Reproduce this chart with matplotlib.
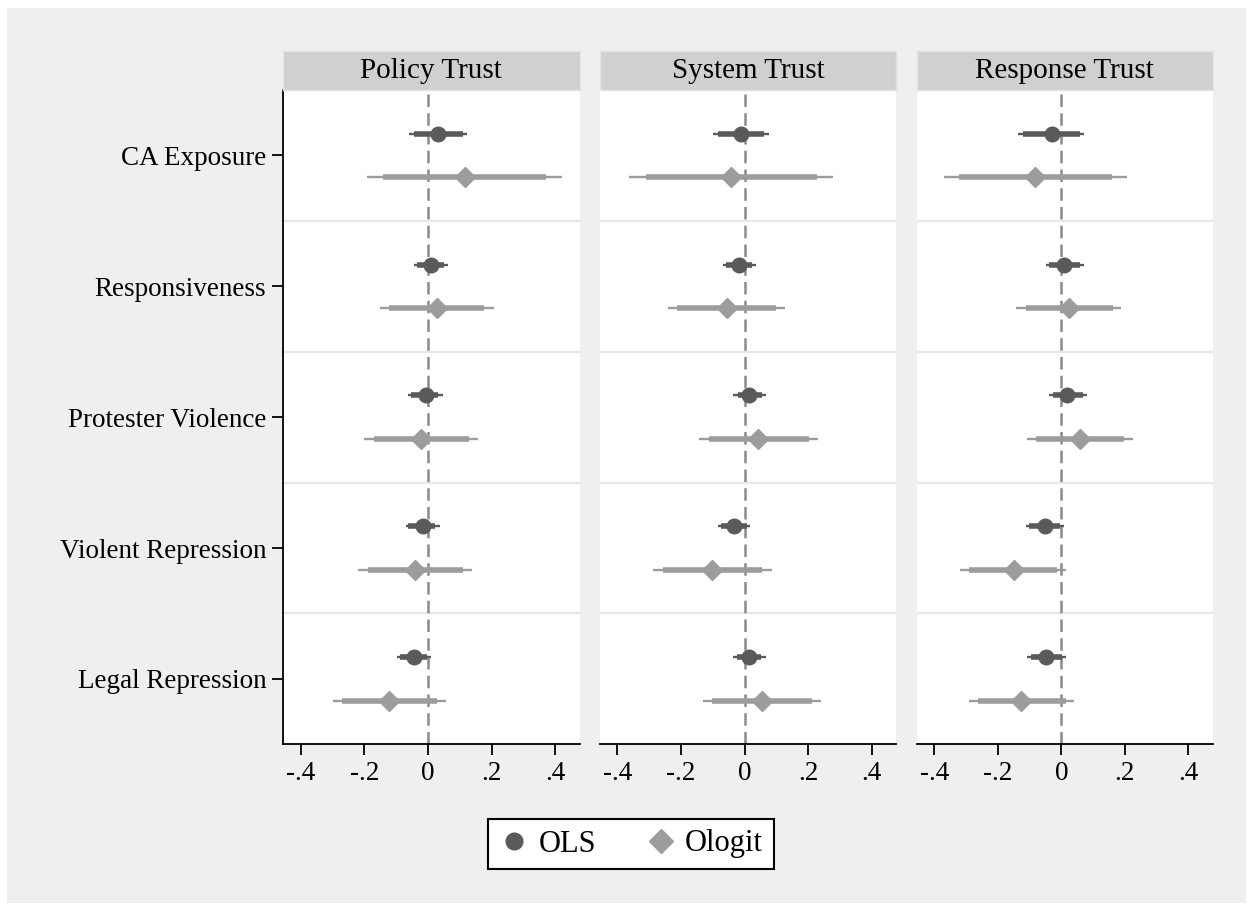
import matplotlib
matplotlib.use("Agg")
import matplotlib.pyplot as plt
from matplotlib.lines import Line2D
from matplotlib.patches import Rectangle

plt.rcParams['font.family'] = ['Liberation Serif', 'DejaVu Serif']

panels = ["Policy Trust", "System Trust", "Response Trust"]
variables = ["CA Exposure", "Responsiveness", "Protester Violence",
             "Violent Repression", "Legal Repression"]
xtick_vals = [-0.4, -0.2, 0, 0.2, 0.4]
xtick_labels = ["-.4", "-.2", "0", ".2", ".4"]

# OLS: estimate, 90% CI (thick), 95% CI (thin)
ols_est = [[0.031, 0.009, -0.006, -0.016, -0.043],
           [-0.013, -0.018, 0.015, -0.034, 0.014],
           [-0.031, 0.008, 0.019, -0.052, -0.047]]
ols_lo90 = [[-0.045, -0.035, -0.053, -0.061, -0.087],
            [-0.085, -0.059, -0.022, -0.075, -0.025],
            [-0.121, -0.039, -0.028, -0.102, -0.097]]
ols_hi90 = [[0.110, 0.051, 0.033, 0.023, -0.003],
            [0.062, 0.022, 0.053, 0.006, 0.051],
            [0.058, 0.058, 0.068, -0.003, 0.002]]
ols_lo95 = [[-0.059, -0.045, -0.061, -0.069, -0.096],
            [-0.099, -0.067, -0.036, -0.085, -0.036],
            [-0.136, -0.049, -0.039, -0.112, -0.108]]
ols_hi95 = [[0.123, 0.063, 0.047, 0.039, 0.010],
            [0.075, 0.035, 0.066, 0.017, 0.066],
            [0.071, 0.070, 0.081, 0.008, 0.013]]

# Ologit
olg_est = [[0.115, 0.028, -0.022, -0.040, -0.121],
           [-0.043, -0.057, 0.043, -0.102, 0.053],
           [-0.084, 0.024, 0.060, -0.150, -0.126]]
olg_lo90 = [[-0.140, -0.121, -0.169, -0.187, -0.270],
            [-0.311, -0.214, -0.112, -0.258, -0.102],
            [-0.322, -0.113, -0.079, -0.291, -0.264]]
olg_hi90 = [[0.372, 0.177, 0.128, 0.110, 0.028],
            [0.226, 0.098, 0.201, 0.053, 0.211],
            [0.159, 0.162, 0.197, -0.013, 0.013]]
olg_lo95 = [[-0.190, -0.150, -0.200, -0.218, -0.299],
            [-0.363, -0.242, -0.143, -0.287, -0.132],
            [-0.369, -0.142, -0.108, -0.320, -0.291]]
olg_hi95 = [[0.421, 0.206, 0.157, 0.140, 0.057],
            [0.277, 0.128, 0.231, 0.085, 0.240],
            [0.206, 0.189, 0.225, 0.016, 0.040]]

ols_color = "#5a5a5a"
olg_color = "#9c9c9c"

W, H = 1253, 911


def box(x0, y0, x1, y1):
    return [x0 / W, 1 - y1 / H, (x1 - x0) / W, (y1 - y0) / H]


fig = plt.figure(figsize=(W / 100, H / 100), dpi=100)
fig.patch.set_facecolor("white")
fig.patches.append(Rectangle((7 / W, 1 - 903 / H), 1239 / W, 895 / H,
                             transform=fig.transFigure, facecolor="#efefef",
                             edgecolor="none", zorder=-10))

xpos = [(283, 579.5), (600, 896), (917, 1212.5)]
off = 0.166

for p, title in enumerate(panels):
    x0, x1 = xpos[p]
    ax = fig.add_axes(box(x0, 90, x1, 744.3))
    ax.set_facecolor("white")
    ax.set_xlim(-0.455, 0.476)
    ax.set_ylim(4.5, -0.5)
    for s in ["top", "right"]:
        ax.spines[s].set_visible(False)
    ax.spines["bottom"].set_linewidth(1.3)
    ax.spines["left"].set_linewidth(1.3)
    if p > 0:
        ax.spines["left"].set_visible(False)

    for b in [0.5, 1.5, 2.5, 3.5]:
        ax.axhline(b, color="#e6e6e6", lw=1.6, zorder=1)
    ax.axvline(0, color="#8a8a8a", lw=1.8, dashes=(5, 2.5), zorder=2)

    for i in range(len(variables)):
        y1 = i - off
        ax.plot([ols_lo95[p][i], ols_hi95[p][i]], [y1, y1], color=ols_color,
                lw=1.7, solid_capstyle="butt", zorder=3)
        ax.plot([ols_lo90[p][i], ols_hi90[p][i]], [y1, y1], color=ols_color,
                lw=4.0, solid_capstyle="butt", zorder=3)
        ax.plot(ols_est[p][i], y1, "o", color=ols_color, ms=10.5, zorder=4)
        y2 = i + off
        ax.plot([olg_lo95[p][i], olg_hi95[p][i]], [y2, y2], color=olg_color,
                lw=1.7, solid_capstyle="butt", zorder=3)
        ax.plot([olg_lo90[p][i], olg_hi90[p][i]], [y2, y2], color=olg_color,
                lw=4.0, solid_capstyle="butt", zorder=3)
        ax.plot(olg_est[p][i], y2, "D", color=olg_color, ms=10.5, zorder=4)

    ax.set_xticks(xtick_vals)
    ax.set_xticklabels(xtick_labels, fontsize=19.5)
    ax.tick_params(axis="x", direction="out", length=8, width=1.3, pad=4)
    if p == 0:
        ax.set_yticks(range(len(variables)))
        ax.set_yticklabels(variables, fontsize=19.5)
        ax.tick_params(axis="y", direction="out", length=8, width=1.3, pad=4)
    else:
        ax.set_yticks([])

    st = fig.add_axes(box(x0, 51, x1, 90))
    st.set_facecolor("#d0d0d0")
    st.set_xticks([])
    st.set_yticks([])
    for s in st.spines.values():
        s.set_edgecolor("#dbe6ea")
        s.set_linewidth(1.0)
    st.text(0.5, 0.5, title, ha="center", va="center", fontsize=21,
            transform=st.transAxes)

handles = [Line2D([], [], marker="o", ls="none", color=ols_color, ms=12),
           Line2D([], [], marker="D", ls="none", color=olg_color, ms=12)]
leg = fig.legend(handles, ["OLS", "Ologit"], loc="center",
                 bbox_to_anchor=(631 / W, 1 - 844 / H), ncol=2, fontsize=22,
                 frameon=True, fancybox=False, edgecolor="black",
                 framealpha=1, handletextpad=0.3, columnspacing=1.6,
                 handlelength=1.0, borderpad=0.35)
leg.get_frame().set_linewidth(1.5)

fig.savefig("out.png", dpi=100, facecolor=fig.get_facecolor())
